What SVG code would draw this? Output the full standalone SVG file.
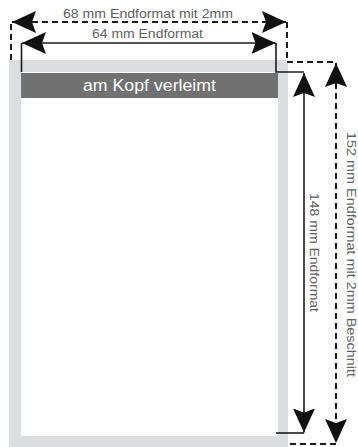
<svg xmlns="http://www.w3.org/2000/svg" width="358" height="447" viewBox="0 0 358 447">
<style>
.lbl{font-family:"Liberation Sans",Arial,sans-serif;font-size:13px;fill:#606060}
.solid{fill:none;stroke:#1a1a1a;stroke-width:1.6}
.dash{fill:none;stroke:#1a1a1a;stroke-width:2;stroke-dasharray:6 4}
</style>
<defs>
<marker id="ah" markerUnits="userSpaceOnUse" markerWidth="26" markerHeight="22" refX="24" refY="11" orient="auto-start-reverse">
<path d="M24,11 L0,0 L4,11 L0,22 Z" fill="#111"/>
</marker>
</defs>
<g id="page">
<rect x="9" y="60" width="279" height="387" fill="#dcdde0"/>
<rect x="21" y="72" width="257" height="364" fill="#fff"/>
</g>
<g id="header">
<rect x="21" y="73" width="257" height="25" fill="#717171"/>
<text x="149.5" y="91" text-anchor="middle" font-family="'Liberation Sans',Arial,sans-serif" font-size="17" fill="#fff" textLength="133" lengthAdjust="spacingAndGlyphs">am Kopf verleimt</text>
</g>
<g id="connectors">
<path class="dash" d="M11,60 V22"/>
<path class="dash" d="M287,22 V62 H336"/>
<path class="dash" d="M336,444 H288"/>
<path class="dash" d="M12,22 H286" marker-start="url(#ah)" marker-end="url(#ah)"/>
<path class="dash" d="M336,63 V443" marker-start="url(#ah)" marker-end="url(#ah)"/>
<path class="solid" d="M21.5,72 V43"/>
<path class="solid" d="M276,43 V72 H304"/>
<path class="solid" d="M276,433 H304"/>
<path class="solid" d="M22,43 H275.5" marker-start="url(#ah)" marker-end="url(#ah)"/>
<path class="solid" d="M304,73 V432.5" marker-start="url(#ah)" marker-end="url(#ah)"/>
</g>
<g id="labels">
<text class="lbl" x="148" y="18" text-anchor="middle" textLength="170" lengthAdjust="spacingAndGlyphs">68 mm Endformat mit 2mm</text>
<text class="lbl" x="147.5" y="38" text-anchor="middle" textLength="111" lengthAdjust="spacingAndGlyphs">64 mm Endformat</text>
<text class="lbl" transform="translate(310,252.5) rotate(90)" text-anchor="middle" textLength="119" lengthAdjust="spacingAndGlyphs">148 mm Endformat</text>
<text class="lbl" transform="translate(347,254.5) rotate(90)" text-anchor="middle" textLength="245" lengthAdjust="spacingAndGlyphs">152 mm Endformat mit 2mm Beschnitt</text>
</g>
</svg>
